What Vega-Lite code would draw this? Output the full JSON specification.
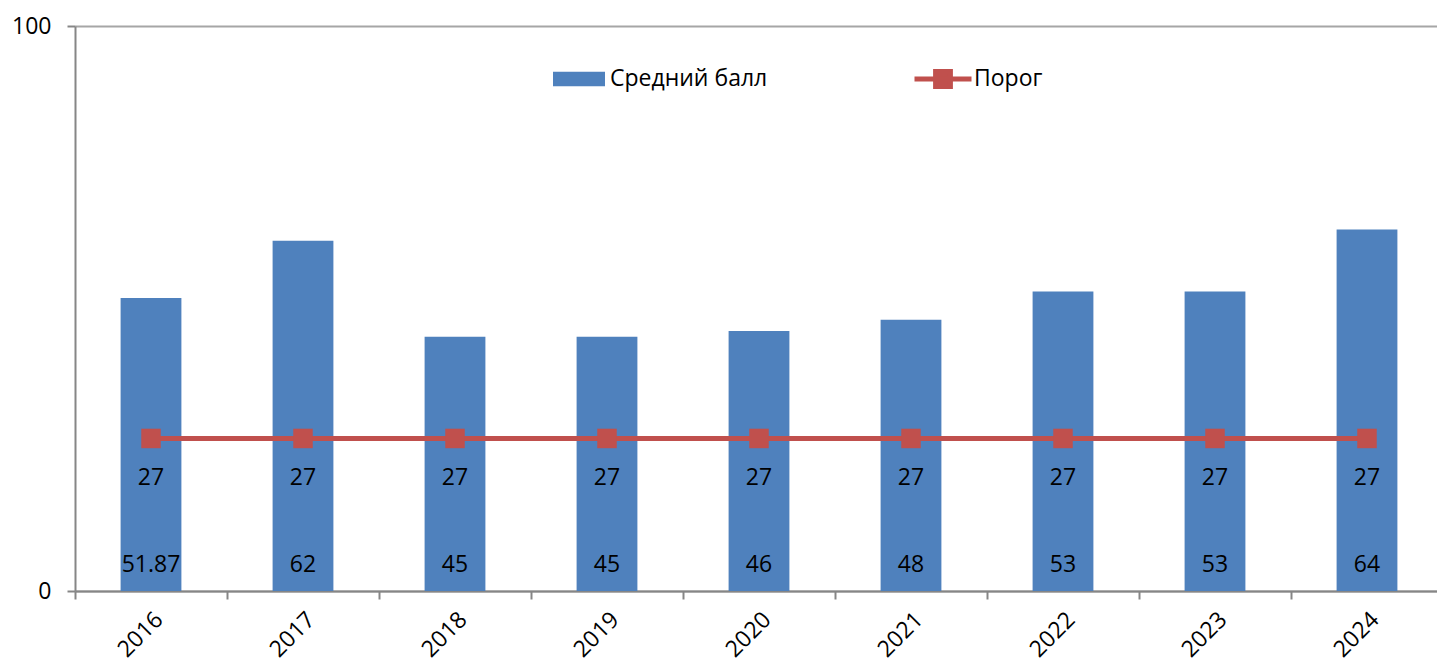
{
  "$schema": "https://vega.github.io/schema/vega-lite/v6.json",
  "autosize": "none",
  "padding": {"left": 75, "top": 26, "right": 0, "bottom": 73},
  "width": 1368,
  "height": 565,
  "config": {
    "view": {"stroke": null},
    "font": "Open Sans",
    "axis": {"labelFont": "Open Sans", "labelFontSize": 23, "labelColor": "#000000", "domainColor": "#868686", "domainWidth": 2, "tickColor": "#868686", "tickWidth": 2, "tickSize": 8, "title": null},
    "legend": {"labelFont": "Open Sans", "labelFontSize": 23, "labelColor": "#000000"}
  },
  "data": {"values": [
    {"year": "2016", "avg": 51.87, "avgLabel": "51.87", "threshold": 27},
    {"year": "2017", "avg": 62, "avgLabel": "62", "threshold": 27},
    {"year": "2018", "avg": 45, "avgLabel": "45", "threshold": 27},
    {"year": "2019", "avg": 45, "avgLabel": "45", "threshold": 27},
    {"year": "2020", "avg": 46, "avgLabel": "46", "threshold": 27},
    {"year": "2021", "avg": 48, "avgLabel": "48", "threshold": 27},
    {"year": "2022", "avg": 53, "avgLabel": "53", "threshold": 27},
    {"year": "2023", "avg": 53, "avgLabel": "53", "threshold": 27},
    {"year": "2024", "avg": 64, "avgLabel": "64", "threshold": 27}
  ]},
  "encoding": {
    "x": {"field": "year", "type": "nominal", "sort": null,
      "scale": {"paddingInner": 0, "paddingOuter": 0},
      "axis": {"labelAngle": -45, "tickBand": "extent", "labelPadding": 9}}
  },
  "layer": [
    {
      "mark": {"type": "bar", "width": {"band": 0.4}},
      "encoding": {
        "y": {"field": "avg", "type": "quantitative", "scale": {"domain": [0, 100], "nice": false},
          "axis": {"values": [0, 100], "grid": true, "gridColor": "#A6A6A6", "gridWidth": 2, "labelPadding": 16}},
        "fill": {"datum": "Средний балл", "scale": {"range": ["#4F81BD"]},
          "legend": {"title": null, "orient": "none", "legendX": 478, "legendY": 27, "symbolType": "M-1,-0.28H1V0.28H-1Z", "symbolSize": 2704, "symbolStrokeWidth": 0, "symbolOpacity": 1, "labelOffset": 5}}
      }
    },
    {
      "mark": {"type": "line", "strokeWidth": 5},
      "encoding": {
        "y": {"field": "threshold", "type": "quantitative"},
        "stroke": {"datum": "Порог", "scale": {"range": ["#C0504D"]},
          "legend": {"title": null, "orient": "none", "legendX": 837, "legendY": 22, "symbolType": "M-1,0H1M-0.26,-0.26H0.26V0.26H-0.26Z", "symbolSize": 3249, "symbolStrokeWidth": 5, "symbolFillColor": "#C0504D", "symbolOpacity": 1, "labelOffset": 0}}
      }
    },
    {
      "mark": {"type": "point", "shape": "square", "filled": true, "size": 380, "color": "#C0504D", "opacity": 1},
      "encoding": {"y": {"field": "threshold", "type": "quantitative"}}
    },
    {
      "mark": {"type": "text", "dy": 40, "fontSize": 23, "color": "#000000"},
      "encoding": {"y": {"field": "threshold", "type": "quantitative"}, "text": {"field": "threshold"}}
    },
    {
      "mark": {"type": "text", "dy": -26, "fontSize": 23, "color": "#000000"},
      "encoding": {"y": {"datum": 0}, "text": {"field": "avgLabel"}}
    }
  ]
}
